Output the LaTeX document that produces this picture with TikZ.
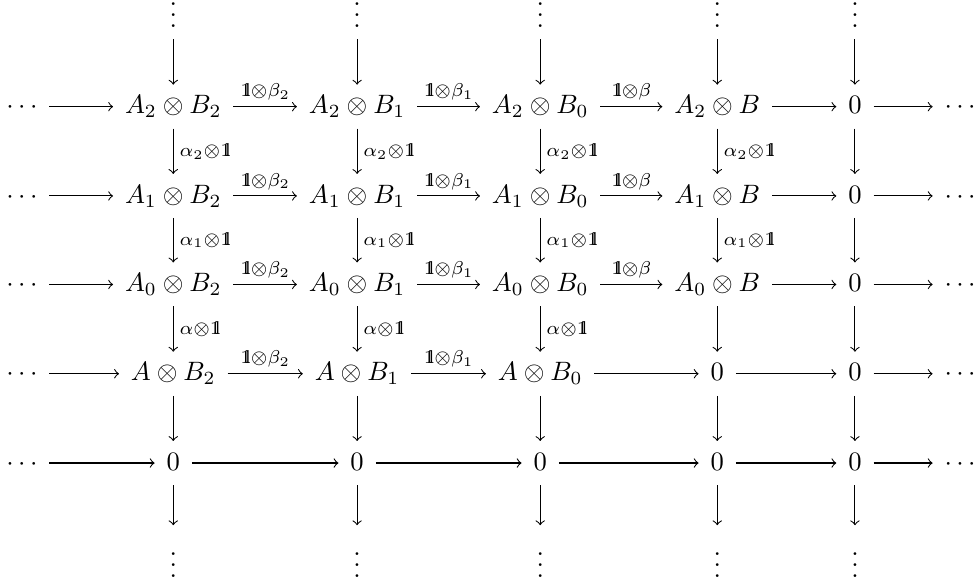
\documentclass[tikz,border=0pt]{standalone}
\usepackage{tikz}
\IfFileExists{bbm.sty}{\usepackage{bbm}\newcommand{\unit}{\mathbbm{1}}}{\newcommand{\unit}{\mathrm{1\mkern-5mu l}}}
\newcommand{\maplabel}[1]{$\scriptstyle #1$}
\newcommand{\coldots}{\vbox{\baselineskip4pt\lineskiplimit0pt\hbox{.}\hbox{.}\hbox{.}}}

\begin{document}
\begin{tikzpicture}[obj/.style={inner sep=1ex, text height=1.5ex, text depth=.25ex},
    vdotsnode/.style={inner sep=1ex, anchor=base},
    map/.style={->},
    lab/.style={inner sep=.5ex}]
\useasboundingbox (0,0) rectangle (12.9,7.72);
% tensor products
\node[obj] (n11) at (2.29,6.31) {$A_2\otimes B_2$};
\node[obj] (n12) at (4.72,6.31) {$A_2\otimes B_1$};
\node[obj] (n13) at (7.14,6.31) {$A_2\otimes B_0$};
\node[obj] (n14) at (9.48,6.31) {$A_2\otimes B$};
\node[obj] (n21) at (2.29,5.13) {$A_1\otimes B_2$};
\node[obj] (n22) at (4.72,5.13) {$A_1\otimes B_1$};
\node[obj] (n23) at (7.14,5.13) {$A_1\otimes B_0$};
\node[obj] (n24) at (9.48,5.13) {$A_1\otimes B$};
\node[obj] (n31) at (2.29,3.96) {$A_0\otimes B_2$};
\node[obj] (n32) at (4.72,3.96) {$A_0\otimes B_1$};
\node[obj] (n33) at (7.14,3.96) {$A_0\otimes B_0$};
\node[obj] (n34) at (9.48,3.96) {$A_0\otimes B$};
\node[obj] (n41) at (2.29,2.78) {$A\otimes B_2$};
\node[obj] (n42) at (4.72,2.78) {$A\otimes B_1$};
\node[obj] (n43) at (7.14,2.78) {$A\otimes B_0$};
\node[obj] (n44) at (9.48,2.78) {$0$};
% zeros and dots
\foreach \i/\y in {1/6.31,2/5.13,3/3.96,4/2.78,5/1.60} {
  \node[obj] (ld\i) at (0.29,\y) {$\cdots$};
  \node[obj] (n\i5) at (11.30,\y) {$0$};
  \node[obj] (rd\i) at (12.69,\y) {$\cdots$};
}
\foreach \j/\x in {1/2.29,2/4.72,3/7.14,4/9.48,5/11.30} {
  \node[vdotsnode] (td\j) at (\x,7.36) {\coldots};
  \node[vdotsnode] (bd\j) at (\x,0.09) {\coldots};
}
\foreach \j/\x in {1/2.29,2/4.72,3/7.14,4/9.48}
  \node[obj] (n5\j) at (\x,1.60) {$0$};

% vertical maps
\foreach \j in {1,...,5} {
  \draw[map] (td\j) -- (n1\j);
  \draw[map] (n4\j) -- (n5\j);
  \draw[map, shorten >=6pt] (n5\j) -- (bd\j);
}
\foreach \j in {1,...,4} {
  \draw[map] (n1\j) -- node[lab,right] {\maplabel{\alpha_2\otimes\unit}} (n2\j);
  \draw[map] (n2\j) -- node[lab,right] {\maplabel{\alpha_1\otimes\unit}} (n3\j);
}
\foreach \j in {1,2,3}
  \draw[map] (n3\j) -- node[lab,right] {\maplabel{\alpha\otimes\unit}} (n4\j);
\draw[map] (n34) -- (n44);
\draw[map] (n15) -- (n25);
\draw[map] (n25) -- (n35);
\draw[map] (n35) -- (n45);

% horizontal maps
\foreach \i in {1,...,5} {
  \draw[map] (ld\i) -- (n\i1);
  \draw[map] (n\i5) -- (rd\i);
}
\foreach \i in {1,...,4} {
  \draw[map] (n\i1) -- node[lab,above] {\maplabel{\unit\otimes\beta_2}} (n\i2);
  \draw[map] (n\i2) -- node[lab,above] {\maplabel{\unit\otimes\beta_1}} (n\i3);
}
\foreach \i in {1,2,3} {
  \draw[map] (n\i3) -- node[lab,above] {\maplabel{\unit\otimes\beta}} (n\i4);
  \draw[map] (n\i4) -- (n\i5);
}
\draw[map] (n43) -- (n44);
\draw[map] (n44) -- (n45);
\foreach \j/\k in {1/2,2/3,3/4,4/5}
  \draw[map] (n5\j) -- (n5\k);
\end{tikzpicture}
\end{document}
